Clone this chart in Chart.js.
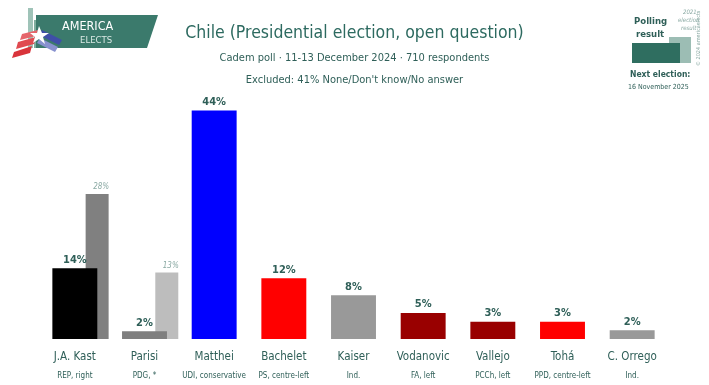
<!DOCTYPE html>
<html>
<head>
<meta charset="utf-8">
<script src="https://cdn.jsdelivr.net/npm/chart.js@4"></script>
<style>
  html, body { margin: 0; padding: 0; background: #fff; }
  body { width: 709px; height: 385px; position: relative; overflow: hidden;
         font-family: "Liberation Sans Narrow", "DejaVu Sans Condensed", sans-serif; color: #2f5f58; }
  #wrap { position: absolute; left: 0; top: 0; width: 709px; height: 385px; }
  .t { position: absolute; white-space: nowrap; }
  #title { left: 0; width: 709px; top: 22px; text-align: center; font-size: 17.5px; color: #2d6a60; }
  #sub1 { left: 0; width: 709px; top: 51px; text-align: center; font-size: 11px; }
  #sub2 { left: 0; width: 709px; top: 73px; text-align: center; font-size: 11px; }
  #logo { position: absolute; left: 12px; top: 6px; }
  #leg { position: absolute; left: 620px; top: 4px; width: 89px; height: 90px; }
</style>
</head>
<body>
<div id="wrap"><canvas id="chart" width="709" height="385"></canvas></div>

<svg id="logo" width="150" height="55" viewBox="0 0 150 55">
  <rect x="16" y="2" width="5" height="40" fill="#9fc3b8"/>
  <rect x="22" y="14" width="4" height="28" fill="#7fae9f"/>
  <polygon points="24,9 146,9 135,42 24,42" fill="#3b7a6c"/>
  <text x="50" y="24" font-size="12.5" fill="#ffffff" font-family="Liberation Sans Narrow, DejaVu Sans Condensed, sans-serif">AMERICA</text>
  <text x="68" y="37" font-size="9.5" fill="#d9e8e3" font-family="Liberation Sans Narrow, DejaVu Sans Condensed, sans-serif">ELECTS</text>
  <polygon points="10,28 26,24 24,30 8,34" fill="#e5656b"/>
  <polygon points="6,36 24,31 22,38 4,43" fill="#e04a50"/>
  <polygon points="2,46 20,40 18,47 0,52" fill="#d9343b"/>
  <polygon points="30,24 50,34 47,39 27,29" fill="#3f4fa8"/>
  <polygon points="28,32 46,41 43,46 25,37" fill="#8892cf"/>
  <polygon points="27,20 30,27 37,27 31,31 33,38 27,33 21,37 23,31 18,27 25,27" fill="#ffffff"/>
</svg>

<svg id="leg" viewBox="0 0 89 90">
  <text x="14" y="20" font-size="9.5" font-weight="bold" fill="#2f5f58" font-family="Liberation Sans Narrow, DejaVu Sans Condensed, sans-serif">Polling</text>
  <text x="16" y="33" font-size="9.5" font-weight="bold" fill="#2f5f58" font-family="Liberation Sans Narrow, DejaVu Sans Condensed, sans-serif">result</text>
  <text x="63" y="10" font-size="6" font-style="italic" fill="#8aa9a3" font-family="Liberation Sans Narrow, DejaVu Sans Condensed, sans-serif">2021</text>
  <text x="58" y="18" font-size="6" font-style="italic" fill="#8aa9a3" font-family="Liberation Sans Narrow, DejaVu Sans Condensed, sans-serif">election</text>
  <text x="61" y="26" font-size="6" font-style="italic" fill="#8aa9a3" font-family="Liberation Sans Narrow, DejaVu Sans Condensed, sans-serif">result</text>
  <rect x="49" y="33" width="22" height="26" fill="#9cbdb4"/>
  <rect x="12" y="39" width="48" height="20" fill="#2f6e60"/>
  <text transform="translate(80,62) rotate(-90)" font-size="5.5" fill="#8aa9a3" font-family="Liberation Sans Narrow, DejaVu Sans Condensed, sans-serif">© 2024 americaelects</text>
  <text x="10" y="73" font-size="8.5" font-weight="bold" fill="#2f5f58" font-family="Liberation Sans Narrow, DejaVu Sans Condensed, sans-serif">Next election:</text>
  <text x="8" y="85" font-size="7" fill="#2f5f58" font-family="Liberation Sans Narrow, DejaVu Sans Condensed, sans-serif">16 November 2025</text>
</svg>

<div class="t" id="title">Chile (Presidential election, open question)</div>
<div class="t" id="sub1">Cadem poll · 11-13 December 2024 · 710 respondents</div>
<div class="t" id="sub2">Excluded: 41% None/Don't know/No answer</div>

<script>
const candidates = ['J.A. Kast', 'Parisi', 'Matthei', 'Bachelet', 'Kaiser', 'Vodanovic', 'Vallejo', 'Tohá', 'C. Orrego'];
const parties = ['REP, right', 'PDG, *', 'UDI, conservative', 'PS, centre-left', 'Ind.', 'FA, left', 'PCCh, left', 'PPD, centre-left', 'Ind.'];
const pollValues = [13.6, 1.5, 44, 11.7, 8.4, 5, 3.3, 3.3, 1.7];
const pollLabels = ['14%', '2%', '44%', '12%', '8%', '5%', '3%', '3%', '2%'];
const result2021 = [27.9, 12.8, null, null, null, null, null, null, null];
const result2021Labels = ['28%', '13%', '', '', '', '', '', '', ''];
const barColors = ['#000000', '#7f7f7f', '#0000ff', '#ff0000', '#999999', '#990000', '#990000', '#ff0000', '#999999'];
const prevColors = ['#808080', '#bdbdbd', '#cccccc', '#cccccc', '#cccccc', '#cccccc', '#cccccc', '#cccccc', '#cccccc'];

const FONT = '"Liberation Sans Narrow", "DejaVu Sans Condensed", sans-serif';
const TEAL = '#2f5f58';

// 2021 bars sit a bit to the right of the poll bars, behind them
const prevShift = 0.32;

const prevData = [];
result2021.forEach((v, i) => { if (v !== null) prevData.push({ x: i, y: v }); });

const labelsPlugin = {
    id: 'barLabels',
    afterDatasetsDraw(chart) {
        const ctx = chart.ctx;
        ctx.save();
        ctx.textAlign = 'center';
        ctx.textBaseline = 'bottom';

        // 2021 result labels
        const prevMeta = chart.getDatasetMeta(1);
        ctx.font = 'italic 8px ' + FONT;
        ctx.fillStyle = '#8aa9a3';
        prevMeta.data.forEach((bar, j) => {
            const idx = prevData[j].x;
            ctx.fillText(result2021Labels[idx], bar.x + 4, bar.y - 3);
        });

        // poll labels
        const meta = chart.getDatasetMeta(0);
        ctx.font = 'bold 11px ' + FONT;
        ctx.fillStyle = TEAL;
        meta.data.forEach((bar, i) => {
            ctx.fillText(pollLabels[i], bar.x, bar.y - 3);
        });

        // category names and parties
        const xs = chart.scales.x;
        candidates.forEach((name, i) => {
            const px = xs.getPixelForValue(i);
            ctx.font = '11.5px ' + FONT;
            ctx.fillStyle = TEAL;
            ctx.fillText(name, px, 363);
            ctx.font = '8px ' + FONT;
            ctx.fillText(parties[i], px, 380);
        });
        ctx.restore();
    }
};

new Chart(document.getElementById('chart'), {
    type: 'bar',
    data: {
        labels: candidates,
        datasets: [
            {
                label: 'Poll',
                data: pollValues,
                backgroundColor: barColors,
                xAxisID: 'x',
                barPercentage: 0.645,
                categoryPercentage: 1,
                grouped: false,
                order: 1
            },
            {
                label: '2021 result',
                data: prevData,
                backgroundColor: prevColors,
                xAxisID: 'x2',
                barPercentage: 0.33,
                categoryPercentage: 1,
                grouped: false,
                order: 2
            }
        ]
    },
    options: {
        responsive: false,
        animation: false,
        events: [],
        layout: { padding: { left: 40, right: 42, top: 100, bottom: 46 } },
        plugins: {
            legend: { display: false },
            tooltip: { enabled: false }
        },
        scales: {
            x: {
                display: false,
                grid: { display: false }
            },
            x2: {
                type: 'linear',
                display: false,
                offset: false,
                min: -0.5 - prevShift,
                max: candidates.length - 0.5 - prevShift
            },
            y: {
                display: false,
                min: 0,
                max: 46
            }
        }
    },
    plugins: [labelsPlugin]
});
</script>
</body>
</html>
